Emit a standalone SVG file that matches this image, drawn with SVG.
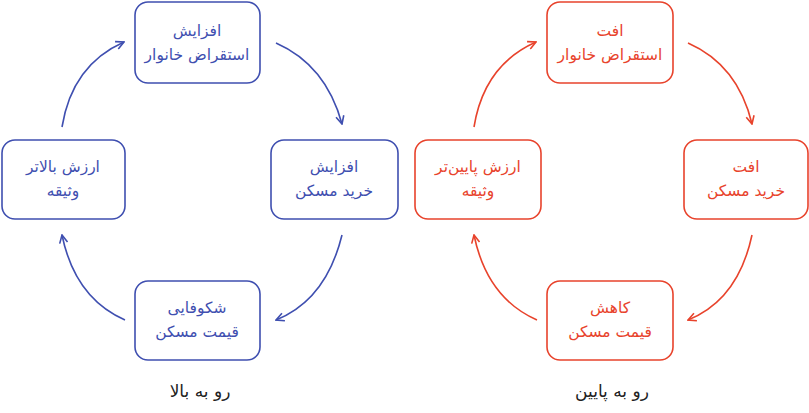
<svg xmlns="http://www.w3.org/2000/svg" width="809" height="413" viewBox="0 0 809 413">
<style>
.b rect{fill:#fff;stroke:#3f4fb0;stroke-width:1.6}
.r rect{fill:#fff;stroke:#e8432c;stroke-width:1.6}
text{font-family:"DejaVu Sans","Noto Sans",sans-serif;font-size:15.5px;text-anchor:middle}
.b text{fill:#3f4fb0}.r text{fill:#e8432c}
.cb path{fill:none;stroke:#3f4fb0;stroke-width:1.6}
.cr path{fill:none;stroke:#e8432c;stroke-width:1.6}
.cap{fill:#222;font-size:17px}
</style>
<defs>
<marker id="mb" viewBox="0 0 10 10" refX="9" refY="5" markerWidth="10" markerHeight="10" markerUnits="userSpaceOnUse" orient="auto"><path d="M1,1 L9,5 L1,9" fill="none" stroke="#3f4fb0" stroke-width="1.6"/></marker>
<marker id="mr" viewBox="0 0 10 10" refX="9" refY="5" markerWidth="10" markerHeight="10" markerUnits="userSpaceOnUse" orient="auto"><path d="M1,1 L9,5 L1,9" fill="none" stroke="#e8432c" stroke-width="1.6"/></marker>
</defs>
<g class="b">
<g id="l-top"><rect x="135" y="2" width="125" height="81" rx="13"/><text x="197" y="36">افزایش</text><text x="197" y="60">استقراض خانوار</text></g>
<g id="l-right"><rect x="271" y="140" width="127" height="79" rx="13"/><text x="334" y="172">افزایش</text><text x="334" y="196">خرید مسکن</text></g>
<g id="l-bottom"><rect x="135" y="281" width="125" height="79" rx="13"/><text x="197" y="313">شکوفایی</text><text x="197" y="337">قیمت مسکن</text></g>
<g id="l-left"><rect x="2" y="140" width="123" height="79" rx="13"/><text x="63" y="172">ارزش بالاتر</text><text x="63" y="196">وثیقه</text></g>
</g>
<g class="r">
<g id="r-top"><rect x="547" y="2" width="126" height="81" rx="13"/><text x="610" y="36">افت</text><text x="610" y="60">استقراض خانوار</text></g>
<g id="r-right"><rect x="684" y="140" width="124" height="79" rx="13"/><text x="746" y="172">افت</text><text x="746" y="196">خرید مسکن</text></g>
<g id="r-bottom"><rect x="547" y="281" width="126" height="79" rx="13"/><text x="610" y="313">کاهش</text><text x="610" y="337">قیمت مسکن</text></g>
<g id="r-left"><rect x="415" y="140" width="126" height="79" rx="13"/><text x="478" y="172">ارزش پایین‌تر</text><text x="478" y="196">وثیقه</text></g>
</g>
<g id="connectors">
<g class="cb">
<path d="M276,43 Q326,65 342,124" marker-end="url(#mb)"/>
<path d="M342,235 Q326,300 276,320" marker-end="url(#mb)"/>
<path d="M125,320 Q75,298 62,235" marker-end="url(#mb)"/>
<path d="M62,127 Q72,65 124,42" marker-end="url(#mb)"/>
</g>
<g class="cr">
<path d="M688,43 Q738,65 752,124" marker-end="url(#mr)"/>
<path d="M752,235 Q738,300 688,320" marker-end="url(#mr)"/>
<path d="M537,320 Q487,298 474,235" marker-end="url(#mr)"/>
<path d="M474,127 Q484,65 536,42" marker-end="url(#mr)"/>
</g>
</g>
<text class="cap" x="200" y="397">رو به بالا</text>
<text class="cap" x="612" y="397">رو به پایین</text>
</svg>
